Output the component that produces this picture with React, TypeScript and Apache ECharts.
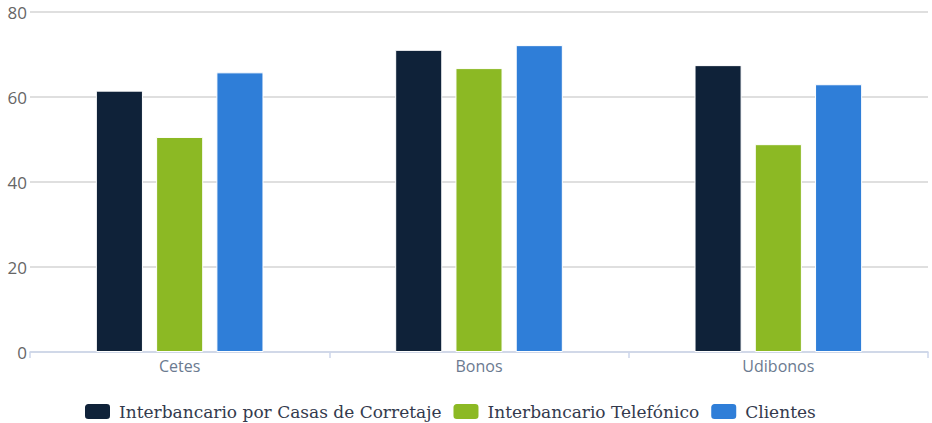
import React, { useEffect, useRef } from "react";
import * as echarts from "echarts";

const categories = ["Cetes", "Bonos", "Udibonos"];
const seriesNames = [
  "Interbancario por Casas de Corretaje",
  "Interbancario Telefónico",
  "Clientes",
];
const casasCorretaje = [61.5, 71.1, 67.5];
const telefonico = [50.6, 66.8, 48.9];
const clientes = [65.8, 72.2, 63.0];
const colors = ["#0f2239", "#8cb924", "#2f7ed8"];

export default function App() {
  const ref = useRef<HTMLDivElement>(null);
  useEffect(() => {
    if (!ref.current) return;
    const chart = echarts.init(ref.current, null, { renderer: "svg" });
    const data = [casasCorretaje, telefonico, clientes];
    chart.setOption({
      animation: false,
      grid: { left: 30, right: 4, top: 12, bottom: 71, containLabel: false },
      legend: {
        left: 83,
        top: 402,
        padding: 0,
        itemWidth: 27,
        itemHeight: 17,
        itemGap: 10,
        icon: "roundRect",
        textStyle: {
          fontFamily: "DejaVu Serif",
          fontSize: 17,
          color: "#333a4d",
          padding: [0, 0, 0, 3],
        },
        data: seriesNames,
      },
      xAxis: {
        type: "category",
        data: categories,
        axisLine: { lineStyle: { color: "#ccd6eb", width: 1.5 } },
        axisTick: { show: true, length: 6, lineStyle: { color: "#ccd6eb", width: 1.5 } },
        axisLabel: {
          color: "#6b7a90",
          fontFamily: "Open Sans",
          fontSize: 16,
          margin: 6,
        },
      },
      yAxis: {
        type: "value",
        min: 0,
        max: 80,
        interval: 20,
        axisLine: { show: false },
        axisTick: { show: false },
        splitLine: { lineStyle: { color: "#d4d4d4", width: 1.5 } },
        axisLabel: {
          color: "#666666",
          fontFamily: "Open Sans",
          fontSize: 17,
          margin: 3,
        },
      },
      series: seriesNames.map((name, i) => ({
        name,
        type: "bar",
        data: data[i],
        barGap: "28%",
        barCategoryGap: "44%",
        itemStyle: { color: colors[i], borderColor: "#ffffff", borderWidth: 1 },
      })),
    });
    return () => chart.dispose();
  }, []);
  return <div ref={ref} style={{ width: 932, height: 423, position: "absolute", left: 0, top: 0 }} />;
}
